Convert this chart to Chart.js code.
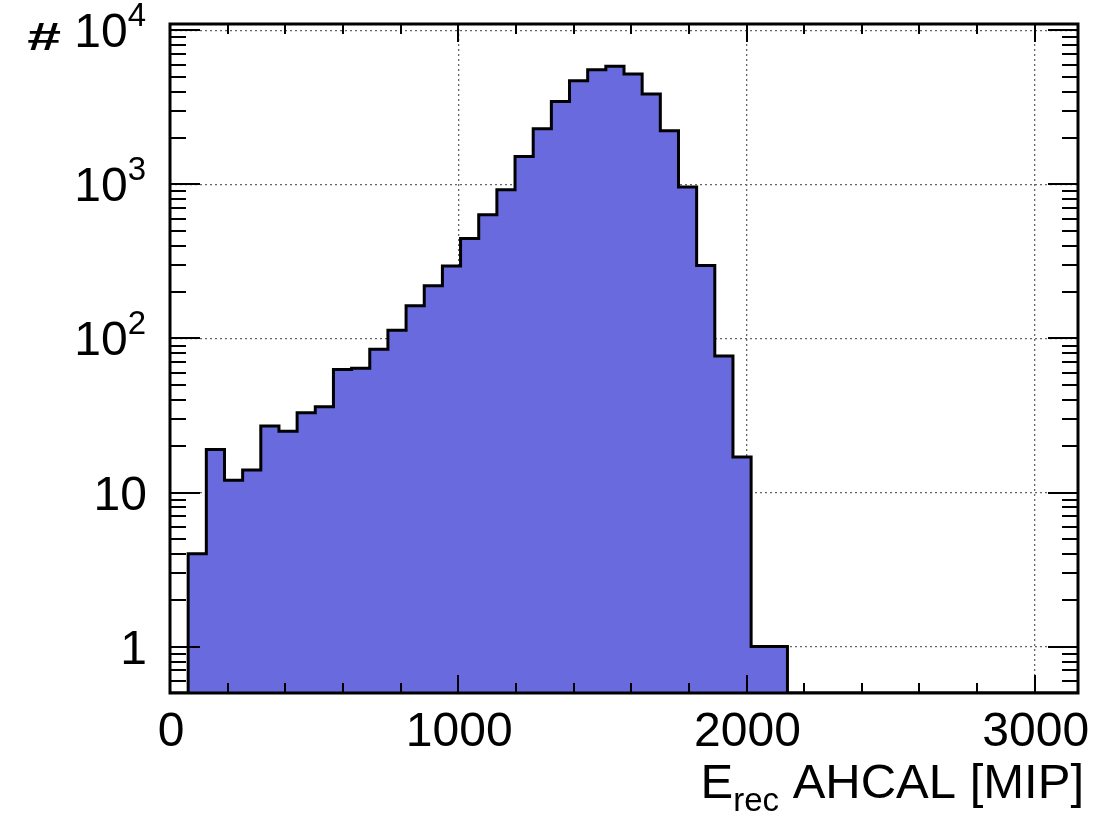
<!DOCTYPE html>
<html>
<head>
<meta charset="utf-8">
<script src="https://cdn.jsdelivr.net/npm/chart.js@4.4.1/dist/chart.umd.min.js"></script>
<style>
    html, body { margin: 0; padding: 0; background: #fff; }
    canvas { display: block; }
</style>
</head>
<body>
<canvas id="histChart" width="1110" height="816"></canvas>
<script>
// binning of the histogram, in MIP
const binWidth = 63;
const xMin = 0;
const xMax = 3150;

// entries per bin, first bin is [0, 63)
const counts = [
    0, 4, 19, 12, 14, 27, 25, 33, 36, 63,
    64, 85, 113, 163, 220, 296, 446, 636, 924, 1520,
    2300, 3460, 4710, 5560, 5840, 5210, 3860, 2230, 962, 298,
    77, 17, 1, 1, 0, 0, 0, 0, 0, 0,
    0, 0, 0, 0, 0, 0, 0, 0, 0, 0,
];

const xTicks = [0, 1000, 2000, 3000];
const xTickLabels = ['0', '1000', '2000', '3000'];
const yMin = 0.5;
const yMax = 11000;
const yTicks = [1, 10, 100, 1000, 10000];
const yTickBase = ['1', '10', '10', '10', '10'];
const yTickExp = ['', '', '2', '3', '4'];

const FONT = "'Liberation Sans', Arial, Helvetica, sans-serif";
const fillColor = 'rgb(105, 106, 222)';

// empty bins sit on the bottom of the frame, like ROOT draws them
const points = counts.map((c, i) => ({ x: xMin + i * binWidth, y: c > 0 ? c : yMin }));
points.push({ x: xMax, y: points[points.length - 1].y });

const rootFrame = {
    id: 'rootFrame',
    afterDatasetsDraw(chart) {
        const { ctx, chartArea: a, scales: { x, y } } = chart;
        ctx.save();
        ctx.strokeStyle = '#000';
        ctx.lineWidth = 2;
        ctx.beginPath();
        // x ticks, inward on bottom and top
        for (let v = 200; v < xMax; v += 200) {
            const px = Math.round(x.getPixelForValue(v));
            const len = v % 1000 === 0 ? 18 : 10;
            ctx.moveTo(px, a.bottom);
            ctx.lineTo(px, a.bottom - len);
            ctx.moveTo(px, a.top);
            ctx.lineTo(px, a.top + len);
        }
        // y ticks, log decades with 2..9 minors
        for (let d = 0.1; d <= 10000; d *= 10) {
            for (let m = 1; m <= 9; m++) {
                const v = m * d;
                if (v < yMin * 0.999 || v > yMax) continue;
                const py = Math.round(y.getPixelForValue(v));
                const len = m === 1 ? 30 : 16;
                ctx.moveTo(a.left, py);
                ctx.lineTo(a.left + len, py);
                ctx.moveTo(a.right, py);
                ctx.lineTo(a.right - len, py);
            }
        }
        ctx.stroke();
        ctx.lineWidth = 3;
        ctx.strokeRect(a.left, a.top, a.right - a.left, a.bottom - a.top);

        // tick labels
        ctx.fillStyle = '#000';
        ctx.font = `48px ${FONT}`;
        ctx.textAlign = 'center';
        ctx.textBaseline = 'alphabetic';
        xTicks.forEach((v, i) => {
            ctx.fillText(xTickLabels[i], x.getPixelForValue(v) + 1, a.bottom + 53);
        });

        const labelRight = 146;
        yTicks.forEach((v, i) => {
            const py = y.getPixelForValue(v);
            let right = labelRight;
            ctx.textAlign = 'right';
            if (yTickExp[i]) {
                ctx.font = `33px ${FONT}`;
                ctx.fillText(yTickExp[i], right, py - 4);
                right -= ctx.measureText(yTickExp[i]).width + 1;
            }
            ctx.font = `48px ${FONT}`;
            ctx.fillText(yTickBase[i], right + 1, py + 17);
        });

        // y title, a wide "#" as ROOT draws it
        ctx.save();
        ctx.translate(61, 50);
        ctx.scale(1.6, 1);
        ctx.font = `bold 38px ${FONT}`;
        ctx.textAlign = 'right';
        ctx.fillText('#', 0, 0);
        ctx.restore();

        // x title, E_rec AHCAL [MIP], right aligned to the frame
        const parts = [
            { t: 'E', size: 49, dy: 0 },
            { t: 'rec', size: 33, dy: 13 },
            { t: ' AHCAL [MIP]', size: 49, dy: 0 },
        ];
        let total = 0;
        parts.forEach(p => {
            ctx.font = `${p.size}px ${FONT}`;
            p.w = ctx.measureText(p.t).width;
            total += p.w;
        });
        let cx = 1084 - total;
        const base = 798;
        ctx.textAlign = 'left';
        parts.forEach(p => {
            ctx.font = `${p.size}px ${FONT}`;
            ctx.fillText(p.t, cx, base + p.dy);
            cx += p.w;
        });
        ctx.restore();
    },
};

new Chart(document.getElementById('histChart'), {
    type: 'line',
    data: {
        datasets: [{
            data: points,
            stepped: 'before',
            fill: 'start',
            backgroundColor: fillColor,
            borderColor: '#000',
            borderWidth: 3,
            pointRadius: 0,
            tension: 0,
        }],
    },
    options: {
        responsive: false,
        animation: false,
        layout: { padding: { left: 170, top: 24, right: 32, bottom: 123 } },
        plugins: {
            legend: { display: false },
            tooltip: { enabled: false },
        },
        scales: {
            x: {
                type: 'linear',
                min: xMin,
                max: xMax,
                afterBuildTicks: s => { s.ticks = xTicks.map(v => ({ value: v })); },
                ticks: { display: false },
                grid: { color: '#666', lineWidth: 1.3, drawTicks: false },
                border: { display: false, dash: [2, 3] },
            },
            y: {
                type: 'logarithmic',
                min: yMin,
                max: yMax,
                afterBuildTicks: s => { s.ticks = yTicks.map(v => ({ value: v })); },
                ticks: { display: false },
                grid: { color: '#666', lineWidth: 1.3, drawTicks: false },
                border: { display: false, dash: [2, 3] },
            },
        },
    },
    plugins: [rootFrame],
});
</script>
</body>
</html>
